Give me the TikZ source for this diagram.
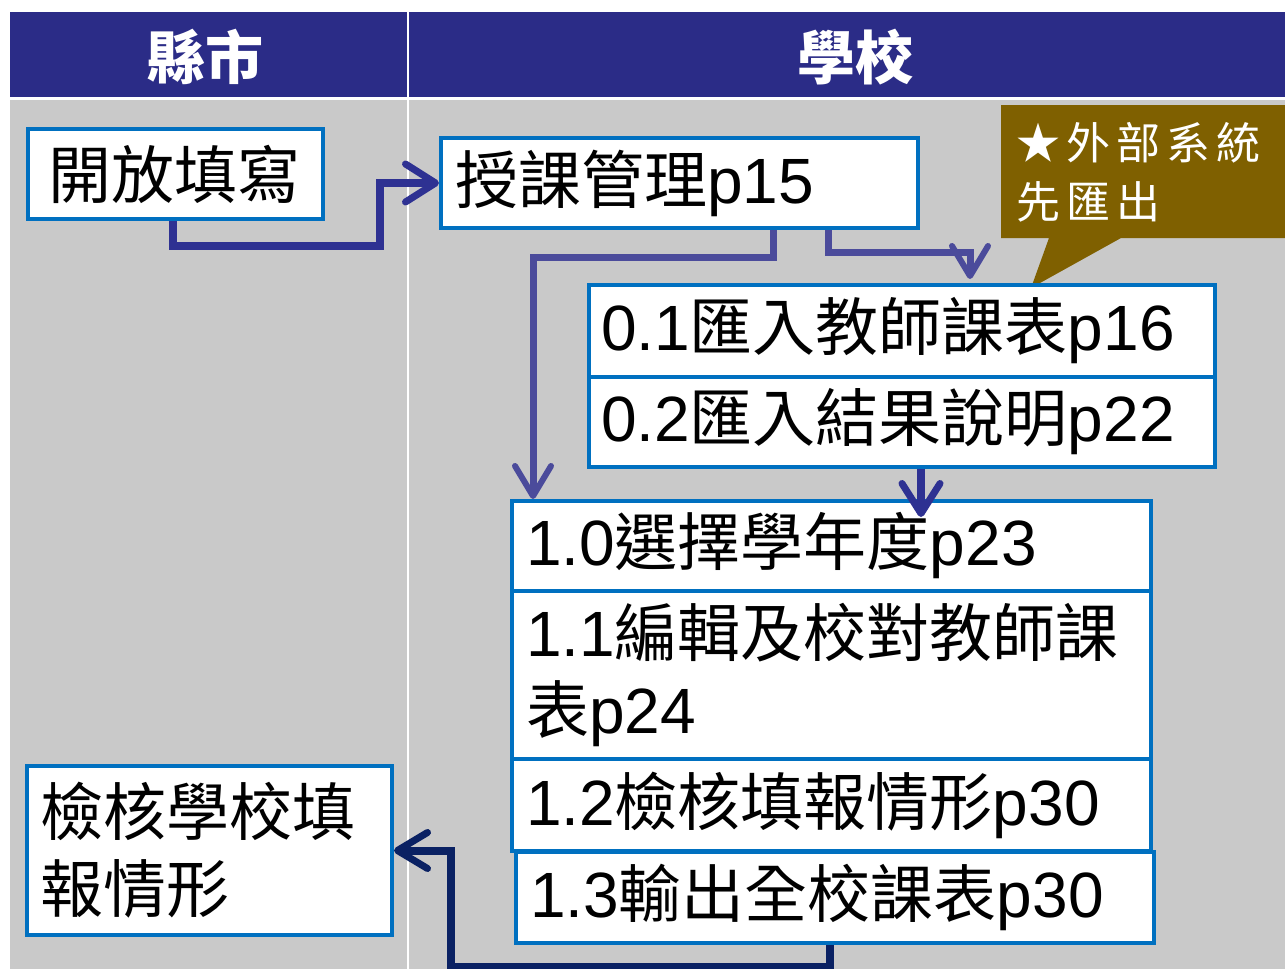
\documentclass[tikz,border=0pt]{standalone}
\usepackage{fontspec}
\setmainfont{Noto Sans CJK TC}
\newfontfamily\latfont{Liberation Sans}
\usetikzlibrary{arrows.meta}
\definecolor{hdr}{HTML}{2B2C87}
\definecolor{bg}{HTML}{C9C9C9}
\definecolor{bblue}{HTML}{0070C0}
\definecolor{brn}{HTML}{7F6000}
\definecolor{navy}{HTML}{2E3192}
\definecolor{indi}{HTML}{4B4B9B}
\definecolor{dnavy}{HTML}{0A2163}
\newcommand\lw[1]{{\latfont\fontsize{64}{77}\selectfont #1}}
\newcommand\ccsp{\hspace{6pt}}
\begin{document}
\begin{tikzpicture}[x=1pt,y=-1pt,
  box/.style={draw=bblue,line width=4pt,fill=white,inner xsep=14pt,inner ysep=0pt,
    align=left,anchor=north west,font=\fontsize{63}{77}\selectfont},
  hd/.style={text=white,inner sep=0pt,font=\fontsize{58}{60}\selectfont\bfseries},
  conA/.style={draw=navy,line width=8pt,-{Straight Barb[length=30pt,width=38pt,line width=7pt,round]}},
  conB/.style={draw=indi,line width=7pt,-{Straight Barb[length=30pt,width=36pt,line width=6pt,round]}},
  conE/.style={draw=dnavy,line width=8pt,-{Straight Barb[length=30pt,width=36pt,line width=7pt,round]}}
]
\path[use as bounding box] (0,0) rectangle (1285,969);
\clip (0,0) rectangle (1285,969);
\fill[white] (0,0) rectangle (1285,969);
% header and lanes
\fill[hdr] (10,12) rectangle (1285,97);
\fill[bg] (10,100) rectangle (1285,969);
\draw[white,line width=1.5pt] (408,12) -- (408,969);
\node[hd] (h1) at (205,57) {縣市};
\node[hd] (h2) at (855,57) {學校};
% callout
\fill[brn] (1001,105) -- (1285,105) -- (1285,238) -- (1121,238) -- (1031,288) -- (1049,238) -- (1001,238) -- cycle;
\node[text=white,font=\fontsize{44}{59}\selectfont,align=left,anchor=north west,inner sep=0pt] (note) at (1016,122)
  {★\ccsp 外\ccsp 部\ccsp 系\ccsp 統\\先\ccsp 匯\ccsp 出};
% boxes
\node[box,inner xsep=20pt,text width=255pt,minimum height=90pt] (open) at (26,127) {開放填寫};
\node[box,text width=449pt,minimum height=90pt] (kk) at (439,136) {授課管理\lw{p15}};
\node[box,inner xsep=12pt,text width=602pt,minimum height=92pt] (b01) at (587,283) {\lw{0.1}匯入教師課表\lw{p16}};
\node[box,inner xsep=12pt,text width=602pt,minimum height=90pt] (b02) at (587,375) {\lw{0.2}匯入結果說明\lw{p22}};
\node[box,text width=611pt,minimum height=90pt] (b10) at (510,499) {\lw{1.0}選擇學年度\lw{p23}};
\node[box,text width=611pt,minimum height=168pt] (b11) at (510,589) {\lw{1.1}編輯及校對教師課\\表\lw{p24}};
\node[box,text width=611pt,minimum height=92pt] (b12) at (510,757) {\lw{1.2}檢核填報情形\lw{p30}};
\node[box,text width=610pt,minimum height=91pt] (b13) at (514,850) {\lw{1.3}輸出全校課表\lw{p30}};
\node[box,inner xsep=13pt,text width=339pt,minimum height=169pt] (chk) at (25,764) {檢核學校填\\報情形};
% connectors
\draw[conA] ([xshift=147pt]open.south west) |- (380,246) |- (kk.west);
\draw[conB] ([xshift=334pt]kk.south west) -- ++(0,27) -| ([xshift=23pt]b10.north west);
\draw[conB] ([xshift=389pt]kk.south west) -- ++(0,22) -| ([xshift=383pt,yshift=4pt]b01.north west);
\draw[conA] ([xshift=334pt]b02.south west) -- ([xshift=411pt,yshift=-18pt]b10.north west);
\draw[conE] ([xshift=316pt]b13.south west) |- (451,967) |- (chk.east);
\end{tikzpicture}
\end{document}
